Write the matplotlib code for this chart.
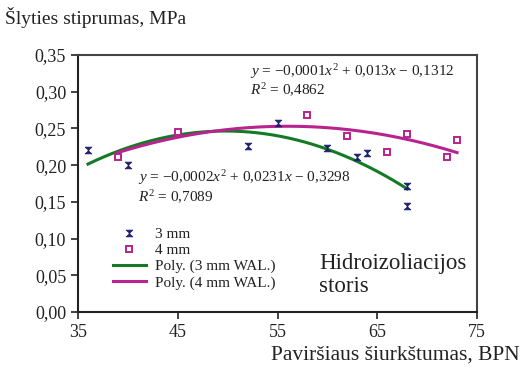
import numpy as np
import matplotlib
matplotlib.use("Agg")
import matplotlib.pyplot as plt
from matplotlib.lines import Line2D
from matplotlib.path import Path

# Data
x_3mm = [36, 40, 52, 55, 60, 63, 64, 68, 68]
y_3mm = [0.221, 0.200, 0.226, 0.258, 0.223, 0.211, 0.217, 0.171, 0.144]
x_4mm = [39, 45, 58, 62, 66, 68, 72, 73]
y_4mm = [0.211, 0.245, 0.268, 0.240, 0.218, 0.243, 0.211, 0.234]
xticks = [35, 45, 55, 65, 75]
yticks = [0.00, 0.05, 0.10, 0.15, 0.20, 0.25, 0.30, 0.35]
eq_3mm = "$y$ = −0,0002$x^2$ + 0,0231$x$ − 0,3298"
r2_3mm = "$R^2$ = 0,7089"
eq_4mm = "$y$ = −0,0001$x^2$ + 0,013$x$ − 0,1312"
r2_4mm = "$R^2$ = 0,4862"

plt.rcParams['font.family'] = ['Liberation Serif', 'DejaVu Serif']
plt.rcParams['mathtext.fontset'] = 'custom'
plt.rcParams['mathtext.rm'] = 'Liberation Serif'
plt.rcParams['mathtext.it'] = 'Liberation Serif:italic'

fig = plt.figure(figsize=(5.26, 3.72), dpi=100)
ax = fig.add_axes([78/526, 1-312/372, (477-78)/526, (312-55)/372])

green = '#137a25'
magenta = '#b8238f'
navy = '#1c1f6b'
txt = '#222222'

# hourglass-like star marker
hg = Path([(-1, 1), (1, 1), (-0.15, 0), (1, -1), (-1, -1), (0.15, 0), (-1, 1)],
          [Path.MOVETO, Path.LINETO, Path.LINETO, Path.LINETO, Path.LINETO,
           Path.LINETO, Path.CLOSEPOLY])

# trendlines (2nd order polynomial fits)
c3 = np.polyfit(x_3mm, y_3mm, 2)
xs3 = np.linspace(min(x_3mm), max(x_3mm), 200)
ax.plot(xs3, np.polyval(c3, xs3), color=green, lw=2.2, zorder=2)
c4 = np.polyfit(x_4mm, y_4mm, 2)
xs4 = np.linspace(min(x_4mm), max(x_4mm), 200)
ax.plot(xs4, np.polyval(c4, xs4), color=magenta, lw=2.2, zorder=2)

ax.plot(x_3mm, y_3mm, linestyle='none', marker=hg, ms=4.8, mew=0.6,
        color=navy, zorder=3)
ax.plot(x_4mm, y_4mm, linestyle='none', marker='s', ms=5, mew=1.4,
        mfc='white', mec=magenta, zorder=3)

ax.set_xlim(35, 75)
ax.set_ylim(0, 0.35)
ax.set_xticks(xticks)
ax.set_xticklabels([str(v) for v in xticks])
ax.set_yticks(yticks)
ax.set_yticklabels([f"{v:.2f}".replace('.', ',') for v in yticks])
ax.tick_params(labelsize=13, length=5, width=1.2, direction='out', color=txt,
               labelcolor=txt)
for s in ['left', 'bottom']:
    ax.spines[s].set_linewidth(1.5)
    ax.spines[s].set_color(txt)
for s in ['top', 'right']:
    ax.spines[s].set_linewidth(1.5)
    ax.spines[s].set_color('#444444')

fig.text(5/526, 1-17/372, "Šlyties stiprumas, MPa", fontsize=14, va='center',
         ha='left', color=txt)
fig.text(520/526, 1-355/372, "Paviršiaus šiurkštumas, BPN", fontsize=15.5,
         va='center', ha='right', color=txt)

fig.text(250/526, 1-72/372, eq_4mm, fontsize=11, va='center', ha='left', color=txt)
fig.text(250/526, 1-90/372, r2_4mm, fontsize=11, va='center', ha='left', color=txt)
fig.text(138/526, 1-178/372, eq_3mm, fontsize=11, va='center', ha='left', color=txt)
fig.text(138/526, 1-197/372, r2_3mm, fontsize=11, va='center', ha='left', color=txt)

fig.text(319/526, 1-263/372, "Hidroizoliacijos", fontsize=16.5, va='center',
         ha='left', color=txt)
fig.text(319/526, 1-287/372, "storis", fontsize=16.5, va='center',
         ha='left', color=txt)

handles = [
    Line2D([], [], linestyle='none', marker=hg, ms=4.8, mew=0.6, color=navy),
    Line2D([], [], linestyle='none', marker='s', ms=5, mew=1.4, mfc='white', mec=magenta),
    Line2D([], [], color=green, lw=2.2),
    Line2D([], [], color=magenta, lw=2.2),
]
labels = ["3 mm", "4 mm", "Poly. (3 mm WAL.)", "Poly. (4 mm WAL.)"]
leg = ax.legend(handles, labels, loc='upper left', bbox_to_anchor=(105/526, 1-220/372),
                bbox_transform=fig.transFigure, frameon=False, fontsize=11,
                handlelength=2.2, handletextpad=0.6, labelspacing=0.15, borderpad=0)
for t in leg.get_texts():
    t.set_color(txt)

fig.savefig("out.png", dpi=100)
